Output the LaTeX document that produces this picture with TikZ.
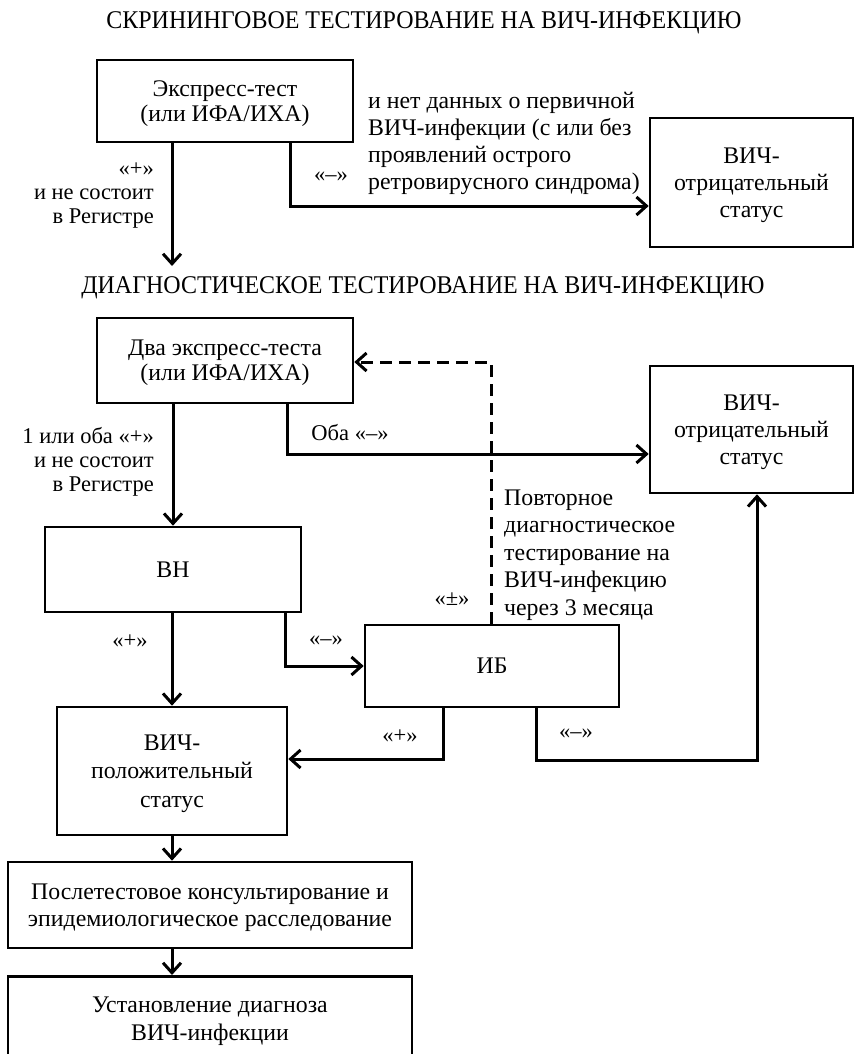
\documentclass[tikz,border=0pt]{standalone}
\usepackage{graphicx}
\usepackage{fontspec}
\setmainfont{Liberation Serif}
\usetikzlibrary{arrows.meta}
\tikzset{
  box/.style={draw, line width=2.6pt, inner sep=0pt, align=center, text depth=-4pt, font=\fontsize{23.8}{27}\selectfont},
  lab/.style={inner sep=0pt, font=\fontsize{22.5}{24}\selectfont},
  txt/.style={inner sep=0pt, align=left, anchor=west, font=\fontsize{23.8}{27}\selectfont},
  ttl/.style={inner sep=0pt, font=\fontsize{25.5}{27}\selectfont},
  arr/.style={line width=3pt, -{Straight Barb[length=10pt,width=18pt,line width=3pt]}},
  darr/.style={arr, dash pattern=on 12pt off 7pt}
}
\begin{document}
\begin{tikzpicture}[x=1pt,y=-1pt]
\useasboundingbox (0,0) rectangle (856,1054);
% titles
\node[ttl] (t1) at (424,23) {\scalebox{0.94}[1]{СКРИНИНГОВОЕ ТЕСТИРОВАНИЕ НА ВИЧ-ИНФЕКЦИЮ}};
\node[ttl] (t2) at (423,288) {\scalebox{0.94}[1]{ДИАГНОСТИЧЕСКОЕ ТЕСТИРОВАНИЕ НА ВИЧ-ИНФЕКЦИЮ}};
% boxes
\node[box, minimum width=256pt, minimum height=82pt, font=\fontsize{23.8}{24.5}\selectfont, text depth=-5pt] (b1) at (225,101) {Экспресс-тест\\(или ИФА/ИХА)};
\node[box, minimum width=203pt, minimum height=129pt, text depth=-11pt] (n1) at (751.5,182.5) {ВИЧ-\\отрицательный\\статус};
\node[box, minimum width=256pt, minimum height=85pt, font=\fontsize{23.8}{25}\selectfont, text depth=-6pt] (b2) at (225,360.5) {Два экспресс-теста\\(или ИФА/ИХА)};
\node[box, minimum width=203pt, minimum height=127pt] (n2) at (751.5,429.5) {ВИЧ-\\отрицательный\\статус};
\node[box, minimum width=256pt, minimum height=85pt, text depth=0pt] (vn) at (173,569.5) {ВН};
\node[box, minimum width=254pt, minimum height=82pt, text depth=0pt] (ib) at (492,666) {ИБ};
\node[box, minimum width=230pt, minimum height=128pt, font=\fontsize{23.8}{28.5}\selectfont, text depth=-7pt] (pos) at (172,771) {ВИЧ-\\положительный\\статус};
\node[box, minimum width=404pt, minimum height=86pt] (pc) at (210,905) {Послетестовое консультирование и\\эпидемиологическое расследование};
\node[box, minimum width=404pt, minimum height=110pt, anchor=north, font=\fontsize{23.8}{28}\selectfont, text depth=26pt] (dg) at (210,975) {Установление диагноза\\ВИЧ-инфекции};
% helper coordinate
\coordinate (t2in) at (172,266);
% connectors
\draw[arr] (t2in |- b1.south) -- (t2in);
\draw[arr] ([xshift=65pt]b1.south) |- ([yshift=-23.5pt]n1.west);
\draw[darr] ([xshift=-1pt]ib.north) |- ([yshift=-1.5pt]b2.east);
\draw[arr] (vn.north |- b2.south) -- (vn.north);
\draw[arr] ([xshift=62pt]b2.south) |- ([yshift=-24.5pt]n2.west);
\draw[arr] (pos.north |- vn.south) -- (pos.north);
\draw[arr] ([xshift=112pt]vn.south) |- (ib.west);
\draw[arr] ([xshift=-49pt]ib.south) |- ([yshift=12pt]pos.east);
\draw[arr] ([xshift=44pt]ib.south) -- ++(0,52) -| ([xshift=5.5pt]n2.south);
\draw[arr] (pos.south) -- (pos.south |- pc.north);
\draw[arr] (pos.south |- pc.south) -- (pos.south |- dg.north);
% labels
\node[lab, anchor=east, align=right] (l1) at (154,196) {«+»\\и не состоит\\в Регистре};
\node[lab] (l2) at (331,177) {«–»};
\node[txt] (l3) at (368,143) {и нет данных о первичной\\ВИЧ-инфекции (с или без\\проявлений острого\\ретровирусного синдрома)};
\node[lab, anchor=east, align=right] (l4) at (154,462) {1 или оба «+»\\и не состоит\\в Регистре};
\node[lab] (l5) at (350,433) {Оба «–»};
\node[txt, font=\fontsize{23.8}{27.5}\selectfont] (l6) at (504,555) {Повторное\\диагностическое\\тестирование на\\ВИЧ-инфекцию\\через 3 месяца};
\node[lab] (l7) at (452,599) {«±»};
\node[lab] (l8) at (130,641) {«+»};
\node[lab] (l9) at (326,641) {«–»};
\node[lab] (l10) at (400,736) {«+»};
\node[lab] (l11) at (576,734) {«–»};
\end{tikzpicture}
\end{document}
